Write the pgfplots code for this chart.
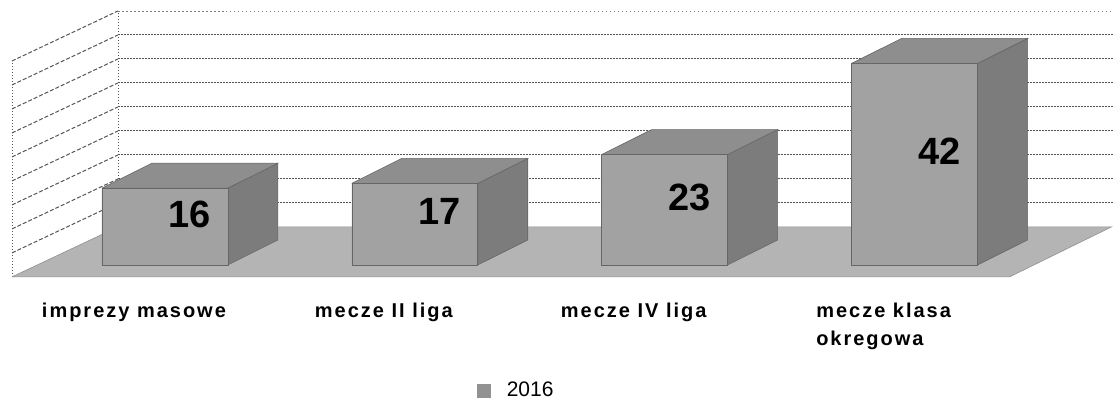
\documentclass[border=0pt]{standalone}
\usepackage{pgfplots}
\pgfplotsset{compat=1.18}
\usepackage{pgfplotstable}
\usepackage{fontspec}
\setmainfont{Liberation Sans}
\newfontfamily\lsfont{Liberation Sans}[LetterSpace=10]
\definecolor{floorgray}{HTML}{B4B4B4}
\definecolor{frontgray}{HTML}{A2A2A2}
\definecolor{topgray}{HTML}{8E8E8E}
\definecolor{sidegray}{HTML}{7C7C7C}
\definecolor{gridgray}{HTML}{555555}
\pgfplotstableread{
x v
165 16
415 17
665 23
915 42
}\bars
\begin{document}
\begin{tikzpicture}
\begin{axis}[
  x=0.5pt, y=2.4pt,
  xmin=0, xmax=1113, ymin=-29.1667, ymax=55.2083,
  clip=false,
  axis line style={draw=none},
  tick style={draw=none},
  ytick=\empty,
  xtick={134,384,634,884},
  xticklabels={imprezy masowe, mecze II liga, mecze IV liga, {mecze klasa\\okregowa}},
  xticklabel style={font=\lsfont\bfseries\fontsize{10}{14}\selectfont, anchor=north, align=left, inner sep=0pt, yshift=51pt},
  legend style={at={(0.4286,0.0346)}, anchor=west, draw=none, fill=none, inner sep=0pt, outer sep=0pt,
    font=\fontsize{10.5}{12}\selectfont},
  legend image code/.code={\path[draw=none,fill=none] (0pt,0pt) -- (13pt,0pt);\fill[frontgray!90!black,draw=none] (0pt,-3.6pt) rectangle (7pt,3.6pt);},
]
% back wall grid lines
\addplot[forget plot, gridgray, line width=0.5pt, dash pattern=on 1pt off 0.5pt, unbounded coords=jump] coordinates {
 (118,12.917)(1113,12.917)(1113,nan)
 (118,17.917)(1113,17.917)(1113,nan)
 (118,22.917)(1113,22.917)(1113,nan)
 (118,27.917)(1113,27.917)(1113,nan)
 (118,32.917)(1113,32.917)(1113,nan)
 (118,37.917)(1113,37.917)(1113,nan)
 (118,42.917)(1113,42.917)(1113,nan)
 (118,47.917)(1113,47.917)};
\addplot[forget plot, gray, line width=0.4pt, dash pattern=on 0.8pt off 1.2pt] coordinates {(118,52.917)(1113,52.917)};
% left wall
\addplot[forget plot, gridgray, line width=0.5pt, dash pattern=on 2pt off 1pt, unbounded coords=jump] coordinates {
 (12,2.5)(118,12.917)(118,nan)
 (12,7.5)(118,17.917)(118,nan)
 (12,12.5)(118,22.917)(118,nan)
 (12,17.5)(118,27.917)(118,nan)
 (12,22.5)(118,32.917)(118,nan)
 (12,27.5)(118,37.917)(118,nan)
 (12,32.5)(118,42.917)(118,nan)
 (12,37.5)(118,47.917)(118,nan)
 (12,42.5)(118,52.917)};
\addplot[forget plot, gridgray, line width=0.4pt, dash pattern=on 0.5pt off 1pt, unbounded coords=jump] coordinates {
 (12,-2.5)(12,42.5)(12,nan)
 (118,7.917)(118,52.917)};
% floor
\addplot[forget plot, fill=floorgray, draw=floorgray!80!black, line width=0.3pt] coordinates {
 (12,-2.5)(118,7.917)(1112,7.917)(1010,-2.5)(12,-2.5)};
% side faces
\addplot[forget plot, fill=sidegray, draw=black!60, line width=0.3pt] coordinates {(228,0)(278,5.2)(278,21.2)(228,16)(228,0)};
\addplot[forget plot, fill=sidegray, draw=black!60, line width=0.3pt] coordinates {(478,0)(528,5.2)(528,22.2)(478,17)(478,0)};
\addplot[forget plot, fill=sidegray, draw=black!60, line width=0.3pt] coordinates {(728,0)(778,5.2)(778,28.2)(728,23)(728,0)};
\addplot[forget plot, fill=sidegray, draw=black!60, line width=0.3pt] coordinates {(978,0)(1028,5.2)(1028,47.2)(978,42)(978,0)};
% top faces
\addplot[forget plot, fill=topgray, draw=black!60, line width=0.3pt] coordinates {(102,16)(228,16)(278,21.2)(152,21.2)(102,16)};
\addplot[forget plot, fill=topgray, draw=black!60, line width=0.3pt] coordinates {(352,17)(478,17)(528,22.2)(402,22.2)(352,17)};
\addplot[forget plot, fill=topgray, draw=black!60, line width=0.3pt] coordinates {(602,23)(728,23)(778,28.2)(652,28.2)(602,23)};
\addplot[forget plot, fill=topgray, draw=black!60, line width=0.3pt] coordinates {(852,42)(978,42)(1028,47.2)(902,47.2)(852,42)};
% front faces
\addplot[ybar, bar width=126, bar shift=0pt, fill=frontgray, draw=black!60, line width=0.3pt] table[x=x, y=v] {\bars};
\addlegendentry{2016}
% value labels
\addplot[forget plot, draw=none, mark=none, nodes near coords, point meta=explicit,
  /pgf/number format/assume math mode=true,
  every node near coord/.append style={anchor=center, font=\bfseries\fontsize{19}{20}\selectfont, inner sep=0pt}]
  table[x expr=\thisrow{x}+25, y expr=\thisrow{v}/2+2.6, meta=v] {\bars};
\end{axis}
\end{tikzpicture}
\end{document}
